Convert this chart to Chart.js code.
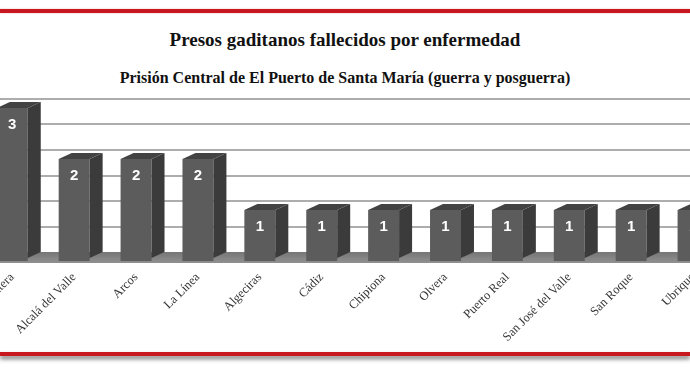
<!DOCTYPE html>
<html>
<head>
<meta charset="utf-8">
<script src="https://cdn.jsdelivr.net/npm/chart.js@4/dist/chart.umd.min.js"></script>
<style>
  html, body { margin: 0; padding: 0; background: #fff; }
  body { width: 690px; height: 367px; position: relative; overflow: hidden; }
  .red-top { position: absolute; left: 0; top: 9px; width: 690px; height: 4px; background: #c8171e;
             box-shadow: 0 0 2px rgba(200, 23, 30, 0.35); }
  .red-bottom { position: absolute; left: 0; top: 352px; width: 690px; height: 4px; background: #c8171e;
                box-shadow: 0 3px 4px rgba(60, 60, 60, 0.7); }
  .title { position: absolute; left: 0; width: 690px; text-align: center;
           font-family: "Liberation Serif", "DejaVu Serif", serif; font-weight: bold; color: #111; }
  #t1 { top: 29px; font-size: 19px; }
  #t2 { top: 69px; font-size: 16px; }
  /* canvas runs past both window edges: the reference is a crop of a wider chart */
  #chart { position: absolute; left: -67px; top: 90px; }
</style>
</head>
<body>
<div class="red-top"></div>
<div class="title" id="t1">Presos gaditanos fallecidos por enfermedad</div>
<div class="title" id="t2">Prisión Central de El Puerto de Santa María (guerra y posguerra)</div>
<canvas id="chart" width="797" height="260"></canvas>
<div class="red-bottom"></div>

<script>
// Localities and deaths
const places = [
  'Jerez de la Frontera', 'Alcalá del Valle', 'Arcos', 'La Línea', 'Algeciras', 'Cádiz',
  'Chipiona', 'Olvera', 'Puerto Real', 'San José del Valle', 'San Roque', 'Ubrique'
];
const deaths = [3, 2, 2, 2, 1, 1, 1, 1, 1, 1, 1, 1];
const gridValues = [0.5, 1, 1.5, 2, 2.5, 3];

// 3D look: side depth and back-wall offset (px)
const DEPTH_X = 13;
const DEPTH_Y = 6;
const WALL_Y = 9;

const wallPlugin = {
  id: 'wall',
  beforeDatasetsDraw(chart) {
    const ctx = chart.ctx;
    const y = chart.scales.y;
    const w = chart.width;
    ctx.save();
    // back wall gridlines
    ctx.strokeStyle = '#adadad';
    ctx.lineWidth = 2;
    gridValues.forEach(v => {
      const py = Math.round(y.getPixelForValue(v) - WALL_Y);
      ctx.beginPath();
      ctx.moveTo(0, py);
      ctx.lineTo(w, py);
      ctx.stroke();
    });
    // floor
    const top = y.getPixelForValue(0) - WALL_Y;
    const g = ctx.createLinearGradient(0, top, 0, top + 11);
    g.addColorStop(0, '#767676');
    g.addColorStop(1, '#909090');
    ctx.fillStyle = g;
    ctx.fillRect(0, top, w, 11);
    ctx.restore();
  }
};

const barSidesPlugin = {
  id: 'barSides',
  afterDatasetsDraw(chart) {
    const ctx = chart.ctx;
    const meta = chart.getDatasetMeta(0);
    ctx.save();
    meta.data.forEach((bar, i) => {
      const { x, y, base, width } = bar.getProps(['x', 'y', 'base', 'width'], true);
      const l = x - width / 2;
      const r = x + width / 2;
      // side face
      ctx.fillStyle = '#3b3b3b';
      ctx.beginPath();
      ctx.moveTo(r, y);
      ctx.lineTo(r + DEPTH_X, y - DEPTH_Y);
      ctx.lineTo(r + DEPTH_X, base - DEPTH_Y - 3);
      ctx.lineTo(r, base - 3);
      ctx.closePath();
      ctx.fill();
      // top face
      ctx.fillStyle = '#434343';
      ctx.beginPath();
      ctx.moveTo(l, y);
      ctx.lineTo(l + DEPTH_X, y - DEPTH_Y);
      ctx.lineTo(r + DEPTH_X, y - DEPTH_Y);
      ctx.lineTo(r, y);
      ctx.closePath();
      ctx.fill();
      // value label
      ctx.fillStyle = '#ffffff';
      ctx.font = 'bold 15px "Liberation Sans", Arial, sans-serif';
      ctx.textAlign = 'center';
      ctx.textBaseline = 'middle';
      ctx.fillText(String(deaths[i]), x, y + 17);
    });
    ctx.restore();
  }
};

new Chart(document.getElementById('chart'), {
  type: 'bar',
  data: {
    labels: places,
    datasets: [{
      data: deaths,
      backgroundColor: '#5c5c5c',
      borderWidth: 0,
      barPercentage: 0.5,
      categoryPercentage: 1
    }]
  },
  options: {
    responsive: false,
    animation: false,
    layout: { autoPadding: false, padding: { left: 20, right: 6, top: 18, bottom: 0 } },
    scales: {
      x: {
        grid: { display: false, drawTicks: false },
        border: { display: false },
        ticks: {
          autoSkip: false,
          maxRotation: 45,
          minRotation: 45,
          padding: 9,
          color: '#333',
          font: { family: '"Liberation Serif", serif', size: 12.5 }
        },
        afterFit(scale) { scale.height = 89; }
      },
      y: {
        display: false,
        min: 0,
        max: 3
      }
    },
    plugins: {
      legend: { display: false },
      tooltip: { enabled: false }
    }
  },
  plugins: [wallPlugin, barSidesPlugin]
});
</script>
</body>
</html>
